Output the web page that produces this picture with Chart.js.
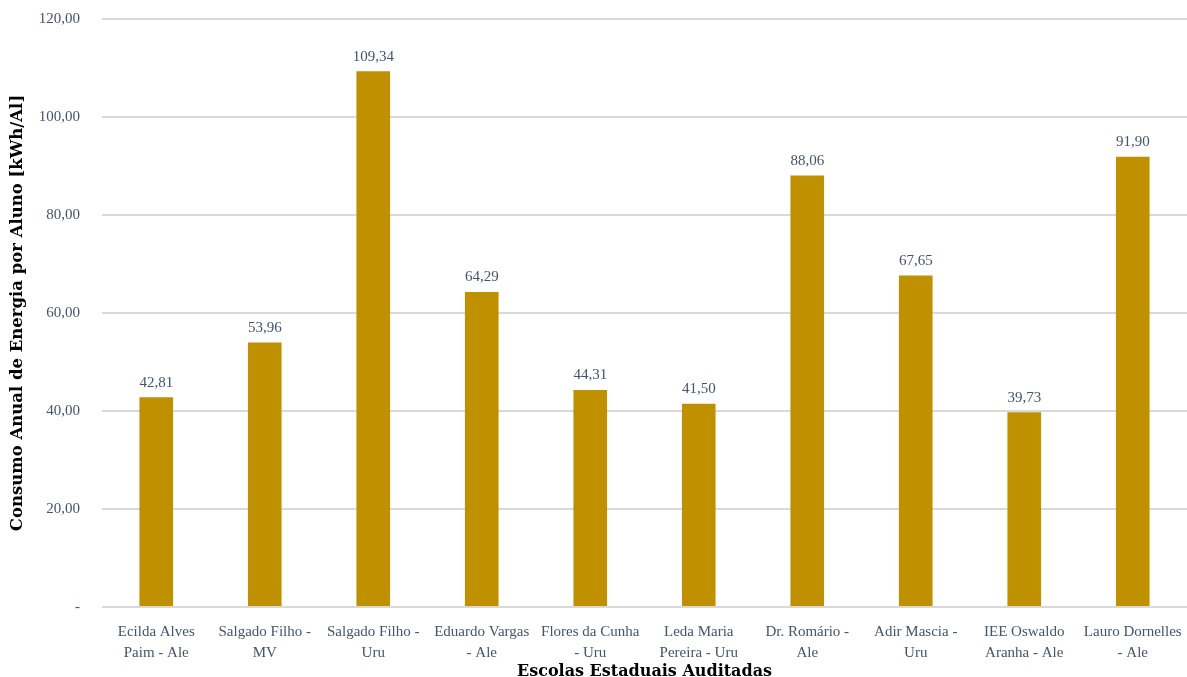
<!DOCTYPE html>
<html>
<head>
<meta charset="utf-8">
<script src="https://cdn.jsdelivr.net/npm/chart.js@4"></script>
<style>
  html, body { margin: 0; padding: 0; background: #ffffff; }
  #wrap { width: 1187px; height: 677px; position: relative; }
</style>
</head>
<body>
<div id="wrap"><canvas id="chart" width="1187" height="677"></canvas></div>
<script>
// School names, split into the two lines shown under each bar
const schools = [
  ["Ecilda Alves", "Paim - Ale"],
  ["Salgado Filho -", "MV"],
  ["Salgado Filho -", "Uru"],
  ["Eduardo Vargas", "- Ale"],
  ["Flores da Cunha", "- Uru"],
  ["Leda Maria", "Pereira - Uru"],
  ["Dr. Romário -", "Ale"],
  ["Adir Mascia -", "Uru"],
  ["IEE Oswaldo", "Aranha - Ale"],
  ["Lauro Dornelles", "- Ale"]
];

// Annual energy use per student (kWh/student)
const consumption = [42.81, 53.96, 109.34, 64.29, 44.31, 41.50, 88.06, 67.65, 39.73, 91.90];

// Value axis ticks
const yTicks = [0, 20, 40, 60, 80, 100, 120];

const yTitle = "Consumo Anual de Energia por Aluno [kWh/Al]";
const xTitle = "Escolas Estaduais Auditadas";

const FONT = "'Liberation Serif', 'Times New Roman', serif";
const TITLE_FONT = "'DejaVu Serif', serif";
const TEXT = "#44546a";
const BAR = "#bf9000";
const GRID = "#d9d9d9";

const fmt = v => v === 0 ? "-" : v.toLocaleString("pt-BR", { minimumFractionDigits: 2, maximumFractionDigits: 2 });

// Writes each bar's value just above its top
const valueLabels = {
  id: "valueLabels",
  afterDatasetsDraw(chart) {
    const ctx = chart.ctx;
    const meta = chart.getDatasetMeta(0);
    const data = chart.data.datasets[0].data;
    ctx.save();
    ctx.font = "15px " + FONT;
    ctx.fillStyle = TEXT;
    ctx.textAlign = "center";
    ctx.textBaseline = "bottom";
    meta.data.forEach((bar, i) => {
      ctx.fillText(fmt(data[i]), bar.x, bar.y - 7);
    });
    ctx.restore();
  }
};

new Chart(document.getElementById("chart"), {
  type: "bar",
  data: {
    labels: schools,
    datasets: [{
      data: consumption,
      backgroundColor: BAR,
      borderWidth: 0,
      barPercentage: 0.62,
      categoryPercentage: 0.5
    }]
  },
  options: {
    responsive: false,
    animation: false,
    devicePixelRatio: 1,
    layout: { padding: { top: 19, right: 0, left: 0, bottom: 0 } },
    plugins: {
      legend: { display: false },
      tooltip: { enabled: false }
    },
    scales: {
      x: {
        grid: { display: false, drawTicks: false },
        border: { display: false },
        ticks: {
          color: TEXT,
          font: { family: FONT, size: 15, lineHeight: 1.4 },
          padding: 15,
          maxRotation: 0,
          autoSkip: false
        },
        title: {
          display: true,
          text: xTitle,
          color: "#000000",
          font: { family: TITLE_FONT, size: 16, weight: "bold", lineHeight: 0.6 },
          padding: { top: 0, bottom: 0 }
        },
        afterFit(scale) {
          scale.height = 70;
          scale.paddingLeft = 0;
          scale.paddingRight = 0;
        }
      },
      y: {
        min: 0,
        max: 120,
        afterBuildTicks(scale) { scale.ticks = yTicks.map(v => ({ value: v })); },
        grid: { color: GRID, lineWidth: 2, drawTicks: false },
        border: { display: false },
        ticks: {
          color: TEXT,
          font: { family: FONT, size: 15 },
          padding: 22,
          callback: v => fmt(v)
        },
        title: {
          display: true,
          text: yTitle,
          color: "#000000",
          font: { family: TITLE_FONT, size: 16.5, weight: "bold", lineHeight: 1.2 },
          padding: { top: 8, bottom: 0 }
        },
        afterFit(scale) {
          scale.width = 102;
          scale.paddingTop = 0;
          scale.paddingBottom = 0;
        }
      }
    }
  },
  plugins: [valueLabels]
});
</script>
</body>
</html>
